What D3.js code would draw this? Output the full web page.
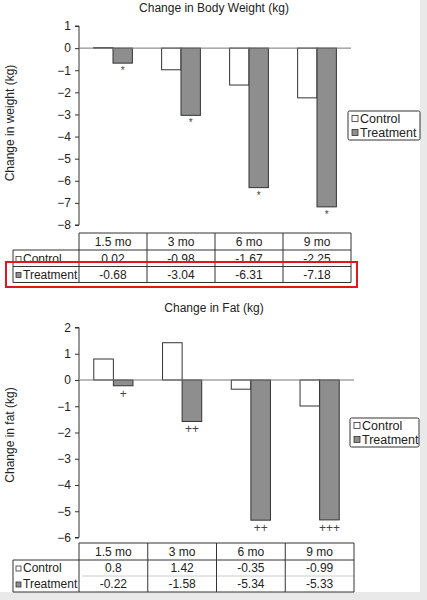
<!DOCTYPE html>
<html>
<head>
<meta charset="utf-8">
<script src="https://cdn.jsdelivr.net/npm/d3@7"></script>
<style>
  html, body { margin: 0; padding: 0; background: #fff; }
  svg { display: block; }
</style>
</head>
<body>
<div id="chart"></div>
<script>
// ---- Data ----
const months = ["1.5 mo", "3 mo", "6 mo", "9 mo"];
const seriesNames = ["Control", "Treatment"];

const weightControl   = [0.02, -0.98, -1.67, -2.25];
const weightTreatment = [-0.68, -3.04, -6.31, -7.18];
const weightMarks     = ["*", "*", "*", "*"];

const fatControl   = [0.8, 1.42, -0.35, -0.99];
const fatTreatment = [-0.22, -1.58, -5.34, -5.33];
const fatMarks     = ["+", "++", "++", "+++"];

const W = 427, H = 600;
const FONT = "'Liberation Sans', Arial, sans-serif";
const fills = { Control: "#ffffff", Treatment: "#8e8e8e" };

const svg = d3.select("#chart").append("svg")
  .attr("width", W).attr("height", H)
  .style("font-family", FONT);

svg.append("rect").attr("width", W).attr("height", H).attr("fill", "#fff");
// light grey frame strips on the right and bottom edges
svg.append("rect").attr("x", 420).attr("y", 0).attr("width", 7).attr("height", H).attr("fill", "#e9e9e9");
svg.append("rect").attr("x", 0).attr("y", 592).attr("width", W).attr("height", 8).attr("fill", "#e9e9e9");

function drawPanel(p) {
  const g = svg.append("g");

  const x = d3.scaleBand().domain(months).range([p.left, p.right]).paddingInner(0.43).paddingOuter(0.215);
  const cols = d3.scaleBand().domain(months).range([p.left, p.right]);
  const xs = d3.scaleBand().domain(seriesNames).range([0, x.bandwidth()]);
  const y = d3.scaleLinear().domain(p.domain).range([p.top, p.bottom]);

  // title
  g.append("text")
    .attr("x", 214).attr("y", p.titleY)
    .attr("text-anchor", "middle").attr("font-size", 12).attr("fill", "#222")
    .text(p.title);

  // y label
  g.append("text")
    .attr("transform", `translate(14,${p.ylabelY}) rotate(-90)`)
    .attr("text-anchor", "middle").attr("font-size", 12).attr("fill", "#222")
    .text(p.ylabel);

  // y axis
  const axis = g.append("g")
    .attr("transform", `translate(${p.left},0)`)
    .call(d3.axisLeft(y).ticks(p.domain[0] - p.domain[1]).tickSize(4).tickPadding(4).tickFormat(d3.format("d")));
  axis.select(".domain").attr("stroke", "#333").attr("d", `M-4,${p.top}H0V${p.bottom}H-4`);
  axis.selectAll(".tick line").attr("stroke", "#333");
  axis.selectAll(".tick text").attr("font-size", 12).attr("fill", "#222").attr("font-family", FONT);

  // bars
  const rows = months.map((m, i) => ({ m, Control: p.control[i], Treatment: p.treatment[i], mark: p.marks[i] }));
  seriesNames.forEach(s => {
    g.selectAll(null).data(rows).join("rect")
      .attr("x", d => x(d.m) + xs(s))
      .attr("width", xs.bandwidth())
      .attr("y", d => Math.min(y(0), y(d[s])))
      .attr("height", d => Math.abs(y(d[s]) - y(0)))
      .attr("fill", fills[s])
      .attr("stroke", "#333").attr("stroke-width", 1);
  });

  // zero line
  g.append("line")
    .attr("x1", p.left).attr("x2", p.right)
    .attr("y1", y(0)).attr("y2", y(0))
    .attr("stroke", "#777").attr("stroke-width", 1);

  // significance marks under treatment bars
  g.selectAll(null).data(rows).join("text")
    .attr("x", d => x(d.m) + xs("Treatment") + xs.bandwidth() / 2)
    .attr("y", d => y(d.Treatment) + p.markOffset)
    .attr("text-anchor", "middle")
    .attr("font-size", p.markSize).attr("fill", "#444")
    .text(d => d.mark);

  // legend
  const lg = g.append("g").attr("transform", `translate(${p.legend[0]},${p.legend[1]})`);
  lg.append("rect").attr("width", p.legend[2]).attr("height", 29).attr("rx", 1.5)
    .attr("fill", "#fff").attr("stroke", "#333");
  seriesNames.forEach((s, i) => {
    lg.append("rect").attr("x", 4).attr("y", 4.5 + i * 14).attr("width", 6).attr("height", 6)
      .attr("fill", fills[s]).attr("stroke", "#333").attr("stroke-width", 0.8);
    lg.append("text").attr("x", 12).attr("y", 11.5 + i * 14)
      .attr("font-size", 12.5).attr("fill", "#222").text(s);
  });

  // data table
  const t = p.table; // [headerTop, headerBottom, midLine, bottom]
  const tg = g.append("g").attr("stroke", "#333").attr("fill", "none");
  tg.append("line").attr("x1", p.left).attr("x2", p.right).attr("y1", t[0]).attr("y2", t[0]);
  tg.append("line").attr("x1", 13).attr("x2", p.right).attr("y1", t[1]).attr("y2", t[1]);
  tg.append("line").attr("x1", p.midFrom).attr("x2", p.right).attr("y1", t[2]).attr("y2", t[2])
    .attr("stroke", p.midColor);
  tg.append("line").attr("x1", 13).attr("x2", p.right).attr("y1", t[3]).attr("y2", t[3]);
  tg.append("line").attr("x1", 13).attr("x2", 13).attr("y1", t[1]).attr("y2", t[3]);
  months.forEach(m => {
    tg.append("line").attr("x1", cols(m)).attr("x2", cols(m)).attr("y1", t[0]).attr("y2", t[3]);
  });
  tg.append("line").attr("x1", p.right).attr("x2", p.right).attr("y1", t[0]).attr("y2", t[3]);

  const txt = g.append("g").attr("font-size", 12).attr("fill", "#222").attr("text-anchor", "middle");
  months.forEach(m => {
    txt.append("text").attr("x", cols(m) + cols.bandwidth() / 2).attr("y", t[1] - 4).text(m);
  });
  seriesNames.forEach((s, r) => {
    const yb = (r === 0 ? t[2] : t[3]) - 4;
    const vals = r === 0 ? p.control : p.treatment;
    g.append("rect").attr("x", 16).attr("y", yb - 6).attr("width", 5).attr("height", 5)
      .attr("fill", fills[s]).attr("stroke", "#333").attr("stroke-width", 0.8);
    g.append("text").attr("x", 23).attr("y", yb).attr("font-size", 12).attr("fill", "#222").text(s);
    months.forEach((m, i) => {
      txt.append("text").attr("x", cols(m) + cols.bandwidth() / 2).attr("y", yb).text(String(vals[i]));
    });
  });
}

drawPanel({
  title: "Change in Body Weight (kg)", titleY: 12,
  ylabel: "Change in weight (kg)", ylabelY: 123,
  control: weightControl, treatment: weightTreatment, marks: weightMarks,
  markOffset: 11, markSize: 10,
  domain: [1, -8], top: 26, bottom: 225, left: 79, right: 351,
  legend: [348, 111, 72],
  table: [233, 250, 266.5, 282.5], midFrom: 13, midColor: "#333"
});

drawPanel({
  title: "Change in Fat (kg)", titleY: 312,
  ylabel: "Change in fat (kg)", ylabelY: 435,
  control: fatControl, treatment: fatTreatment, marks: fatMarks,
  markOffset: 12, markSize: 12,
  domain: [2, -6], top: 327.5, bottom: 537.5, left: 79, right: 354,
  legend: [350, 418, 69],
  table: [543, 560, 576, 592], midFrom: 82, midColor: "#ccc"
});

// red highlight box around the treatment row of the first table
svg.append("rect")
  .attr("x", 6).attr("y", 262).attr("width", 351).attr("height", 25)
  .attr("fill", "none").attr("stroke", "#e3161d").attr("stroke-width", 2);
</script>
</body>
</html>
